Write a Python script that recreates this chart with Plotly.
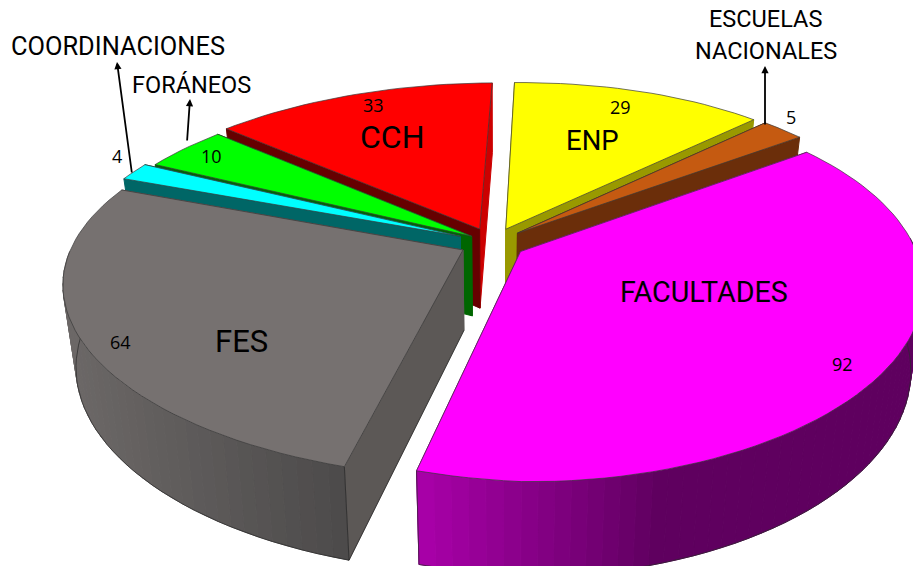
import math

import plotly.graph_objects as go

# slices clockwise from the top of the pie
labels = ["ENP", "ESCUELAS NACIONALES", "FACULTADES", "FES", "COORDINACIONES", "FORÁNEOS", "CCH"]
values = [29, 5, 92, 64, 4, 10, 33]

top_colors = ["#ffff00", "#c55a11", "#ff00ff", "#767170", "#00ffff", "#00ff00", "#ff0000"]
wall_start = ["#999900", "#6b2e0a", "#990099", "#5c5856", "#006666", "#006600", "#660000"]
wall_end = ["#999900", "#6b2e0a", "#990099", "#5c5856", "#006666", "#006600", "#cc0000"]
explode = [0.085, 0.085, 0.085, 0.085, 0.09, 0.065, 0.085]
# only the two front slices show their curved side: index, left colour, right colour, share of width shaded
rim_styles = {2: ("#aa00aa", "#5f005f", 0.48), 3: ("#6c6867", "#4c4a4a", 1.0)}
# back to front
draw_order = [6, 0, 1, 5, 4, 3, 2]

START_ANGLE = 5.0
CX, CY = 493, 243
RX, RY = 398, 180
RIM_DX = 6
PERSP = 0.2
SHEAR = 24
TILT = 12
RIGHT_LIFT = 16
RIGHT_PULL = 32
DEPTH = 80
SHRINK = 0.03


def project(u, v, h=0.0):
    s = 1 / (1 + PERSP * v)
    near = max(1 - v, 0) / 2
    x = CX + (RX * u * s - SHEAR * v - RIGHT_PULL * max(u, 0) * near) * (1 - SHRINK * h)
    y = CY - RY * v * s + h * DEPTH * s ** 0.7 - TILT * u * (1 + v) / 2 - RIGHT_LIFT * max(u, 0) * near ** 2
    return x, y


def point(t, off, h=0.0):
    a = math.radians(t)
    x, y = project(math.sin(a) + off[0], math.cos(a) + off[1], h)
    return x + RIM_DX, y


def poly(fig, pts, fill, line_color=None, line_width=1.0):
    xs = [p[0] for p in pts] + [pts[0][0]]
    ys = [p[1] for p in pts] + [pts[0][1]]
    fig.add_trace(
        go.Scatter(
            x=xs,
            y=ys,
            mode="lines",
            fill="toself",
            fillcolor=fill,
            line=dict(color=line_color or fill, width=line_width),
            hoverinfo="skip",
            showlegend=False,
        )
    )


def edge(fig, pts, color="#2a2a2a", width=0.8):
    fig.add_trace(
        go.Scatter(
            x=[p[0] for p in pts],
            y=[p[1] for p in pts],
            mode="lines",
            line=dict(color=color, width=width),
            hoverinfo="skip",
            showlegend=False,
        )
    )


def mix(c1, c2, f):
    a = [int(c1[i:i + 2], 16) for i in (1, 3, 5)]
    b = [int(c2[i:i + 2], 16) for i in (1, 3, 5)]
    return "rgb(%d,%d,%d)" % tuple(round(p + (q - p) * f) for p, q in zip(a, b))


total = sum(values)
bounds = []
angle = START_ANGLE
for val in values:
    bounds.append((angle, angle + val / total * 360))
    angle += val / total * 360

fig = go.Figure()

for idx in draw_order:
    t0, t1 = bounds[idx]
    mid = math.radians((t0 + t1) / 2)
    off = (explode[idx] * math.sin(mid), explode[idx] * math.cos(mid))
    steps = max(3, int((t1 - t0) / 2))
    ts = [t0 + (t1 - t0) * i / steps for i in range(steps + 1)]

    # radial walls, the farther one first
    apex_top = project(off[0], off[1])
    apex_bot = project(off[0], off[1], 1)
    walls = [(t0, wall_start[idx]), (t1, wall_end[idx])]
    walls.sort(key=lambda w: -math.cos(math.radians(w[0])))
    for t, color in walls:
        poly(fig, [apex_top, point(t, off), point(t, off, 1), apex_bot], color)

    # rim in thin strips so it can shade from left to right, front half only
    if idx in rim_styles:
        light, dark, span = rim_styles[idx]
        front = [t for t in ts if math.cos(math.radians(t)) < 0.05]
        xs = [point(t, off)[0] for t in front]
        x_min, x_max = min(xs), max(xs)
        for a, b in zip(front[:-1], front[1:]):
            frac = (point((a + b) / 2, off)[0] - x_min) / (max(x_max - x_min, 1) * span)
            color = mix(light, dark, min(frac, 1))
            poly(fig, [point(a, off), point(b, off), point(b, off, 1), point(a, off, 1)], color)
        edge(fig, [point(t, off, 1) for t in front], "#2a2a2a", 0.7)
    if idx == 2:
        edge(fig, [point(t1, off), point(t1, off, 1)], "#2a2a2a", 0.7)
    if idx == 3:
        edge(fig, [point(t0, off), point(t0, off, 1), apex_bot], "#2a2a2a", 0.7)

    # top face
    poly(fig, [apex_top] + [point(t, off) for t in ts], top_colors[idx], "#3a3a3a", 0.7)

fig.update_layout(
    width=913,
    height=566,
    margin=dict(l=0, r=0, t=0, b=0),
    paper_bgcolor="white",
    plot_bgcolor="white",
    xaxis=dict(range=[0, 913], visible=False, fixedrange=True),
    yaxis=dict(range=[566, 0], visible=False, fixedrange=True),
    showlegend=False,
)


def text(x, y, s, size, family="Roboto"):
    fig.add_annotation(x=x, y=y, text=s, showarrow=False, font=dict(size=size, family=family, color="#000000"))


def arrow(x0, y0, x1, y1):
    fig.add_annotation(
        x=x1, y=y1, ax=x0, ay=y0, axref="x", ayref="y", text="", showarrow=True,
        arrowhead=2, arrowsize=0.8, arrowwidth=1.8, arrowcolor="#000000",
    )


text(392, 137, "CCH", 32)
text(592, 140, "ENP", 27.5)
text(704, 292, "FACULTADES", 28.7)
text(241, 341, "FES", 31)
text(118, 46, "COORDINACIONES", 25.4)
text(191, 85, "FORÁNEOS", 23.5)
text(765, 19, "ESCUELAS", 23.5)
text(766, 51, "NACIONALES", 23.5)
for x, y, s in [(373, 105, "33"), (620, 107, "29"), (791, 117, "5"), (211, 156, "10"), (117, 156, "4"), (120, 342, "64"), (842, 364, "92")]:
    text(x, y, s, 18, "Open Sans")
arrow(132, 174, 117, 62)
arrow(187, 142, 190, 99)
arrow(765, 126, 765, 66)

fig.write_html("out.html", post_script="document.body.style.margin='0';", config={"displayModeBar": False})
